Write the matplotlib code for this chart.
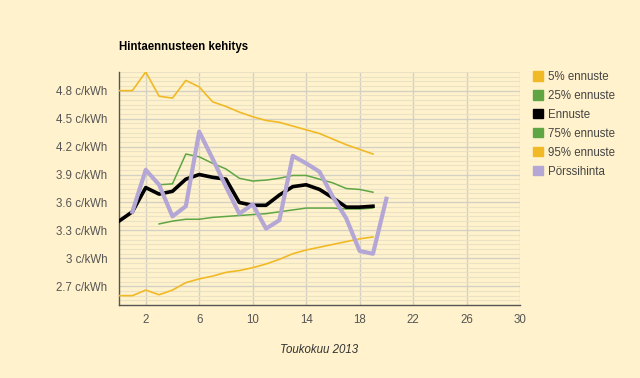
import matplotlib
matplotlib.use("Agg")
import matplotlib.pyplot as plt
from matplotlib.ticker import MultipleLocator, FixedLocator, FuncFormatter
from matplotlib.patches import Patch

days_fc = list(range(0, 20))
p95 = [4.80, 4.80, 5.00, 4.74, 4.72, 4.91, 4.84, 4.68, 4.63, 4.57, 4.52, 4.48, 4.46, 4.42, 4.38, 4.34, 4.28, 4.22, 4.17, 4.12]
p5 = [2.60, 2.60, 2.66, 2.61, 2.66, 2.74, 2.78, 2.81, 2.85, 2.87, 2.90, 2.94, 2.99, 3.05, 3.09, 3.12, 3.15, 3.18, 3.21, 3.23]
ennuste = [3.40, 3.50, 3.76, 3.69, 3.72, 3.85, 3.90, 3.87, 3.85, 3.60, 3.57, 3.57, 3.68, 3.77, 3.79, 3.74, 3.65, 3.55, 3.55, 3.56]
days_q = list(range(3, 20))
p75 = [3.79, 3.80, 4.12, 4.09, 4.02, 3.96, 3.86, 3.83, 3.84, 3.86, 3.89, 3.89, 3.85, 3.81, 3.75, 3.74, 3.71]
p25 = [3.37, 3.40, 3.42, 3.42, 3.44, 3.45, 3.46, 3.47, 3.48, 3.50, 3.52, 3.54, 3.54, 3.54, 3.53, 3.53, 3.54]
days_spot = list(range(1, 21))
spot = [3.50, 3.95, 3.79, 3.45, 3.56, 4.36, 4.07, 3.77, 3.48, 3.58, 3.32, 3.41, 4.10, 4.02, 3.93, 3.66, 3.43, 3.08, 3.05, 3.64]

x_ticks = [2, 6, 10, 14, 18, 22, 26, 30]
y_ticks = [2.7, 3.0, 3.3, 3.6, 3.9, 4.2, 4.5, 4.8]

BG = "#fff2cc"
YEL = "#f1b926"
GRN = "#5fa544"
PUR = "#b4a7d6"

plt.rcParams['font.family'] = ['Liberation Sans', 'DejaVu Sans']
fig = plt.figure(figsize=(6.4, 3.78), dpi=100, facecolor=BG)
ax = fig.add_axes([119/640, 73/378, 401/640, 233/378])
ax.set_facecolor(BG)

ax.plot(days_fc, p95, color=YEL, lw=1.2, zorder=3)
ax.plot(days_fc, p5, color=YEL, lw=1.2, zorder=3)
ax.plot(days_q, p75, color=GRN, lw=1.1, zorder=3)
ax.plot(days_q, p25, color=GRN, lw=1.1, zorder=3)
ax.plot(days_fc, ennuste, color="black", lw=2.6, zorder=4)
ax.plot(days_spot, spot, color=PUR, lw=3.0, zorder=5)

ax.set_xlim(0, 30)
ax.set_ylim(2.5, 5.0)
ax.xaxis.set_major_locator(FixedLocator(x_ticks))
ax.yaxis.set_major_locator(FixedLocator(y_ticks))
ax.yaxis.set_minor_locator(MultipleLocator(0.05))
ax.yaxis.set_major_formatter(FuncFormatter(lambda v, p: f"{v:g} c/kWh"))
ax.grid(True, which="major", color="#d4d0c4", lw=1.0, zorder=0)
ax.grid(True, which="minor", axis="y", color="#ebe1c4", lw=0.8, zorder=0)
ax.tick_params(which="both", length=0, colors="#555555", labelsize=8.3)
ax.tick_params(axis="x", pad=6.5)
ax.tick_params(axis="y", pad=8.5)
for s in ["top", "right"]:
    ax.spines[s].set_visible(False)
for s in ["left", "bottom"]:
    ax.spines[s].set_color("#555555")
    ax.spines[s].set_linewidth(1.0)

ax.set_xlabel("Toukokuu 2013", style="italic", color="#333333", fontsize=8.3, labelpad=13)
fig.text(119/640, 1 - 47/378, "Hintaennusteen kehitys", fontsize=8.3, fontweight="bold",
         va="center", ha="left", color="black")

labels = ["5% ennuste", "25% ennuste", "Ennuste", "75% ennuste", "95% ennuste", "Pörssihinta"]
colors = [YEL, GRN, "black", GRN, YEL, PUR]
handles = [Patch(facecolor=c, edgecolor=c, label=l) for c, l in zip(colors, labels)]
leg = fig.legend(handles=handles, loc="upper left", bbox_to_anchor=(533/640, 1 - 71/378),
                 frameon=False, fontsize=8.3, handlelength=0.85, handleheight=0.85,
                 handletextpad=0.45, labelspacing=0.6, borderaxespad=0, borderpad=0)
for t in leg.get_texts():
    t.set_color("#444444")

fig.savefig("out.png", dpi=100, facecolor=BG)
